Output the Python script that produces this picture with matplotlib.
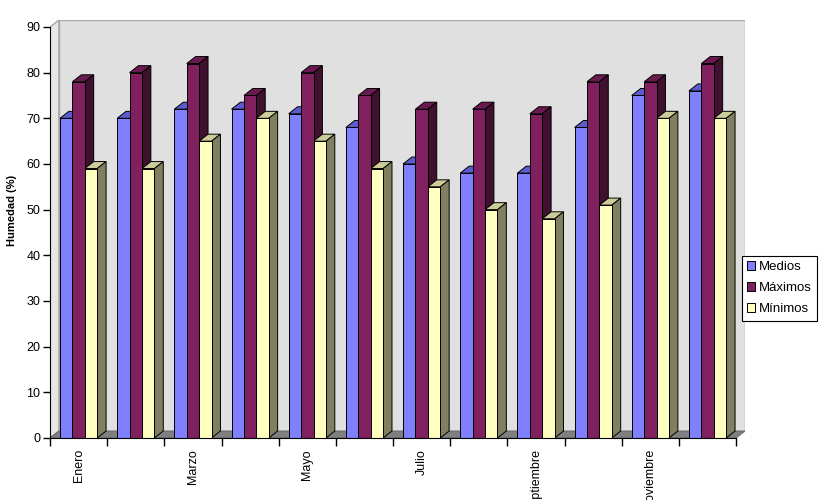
import matplotlib
matplotlib.use('Agg')
import matplotlib.pyplot as plt
from matplotlib.patches import Polygon, Patch
import numpy as np

plt.rcParams['font.family'] = ['Liberation Sans', 'DejaVu Sans']

meses = ['Enero', 'Febrero', 'Marzo', 'Abril', 'Mayo', 'Junio', 'Julio',
         'Agosto', 'Septiembre', 'Octubre', 'Noviembre', 'Diciembre']
medios = [70, 70, 72, 72, 71, 68, 60, 58, 58, 68, 75, 76]
maximos = [78, 80, 82, 75, 80, 75, 72, 72, 71, 78, 78, 82]
minimos = [59, 59, 65, 70, 65, 59, 55, 50, 48, 51, 70, 70]
series = ['Medios', 'Máximos', 'Mínimos']

# front, top, side colours per series
colores = [('#8080ff', '#5c5cd0', '#40408f'),
           ('#80205f', '#6a1a4f', '#40102f'),
           ('#ffffc0', '#cccc99', '#808060')]

n = len(meses)
dx, dy = 0.155, 1.53      # 3D depth offset in data units
off, w = 0.175, 0.217     # bar offset inside category, bar width

fig = plt.figure(figsize=(8.4, 5), dpi=100)
ax = fig.add_axes([50 / 840, 62 / 500, 695 / 840, 418 / 500])
ax.set_xlim(0, n + dx)
ax.set_ylim(0, 90 + dy)

# walls and floor
ax.add_patch(Polygon([(dx, dy), (n + dx, dy), (n + dx, 90 + dy), (dx, 90 + dy)],
                     closed=True, fc='#e0e0e0', ec='#a8a8a8', lw=1, zorder=0))
ax.add_patch(Polygon([(0, 0), (dx, dy), (dx, 90 + dy), (0, 90)],
                     closed=True, fc='#e6e6e6', ec='#a8a8a8', lw=1, zorder=0))
ax.add_patch(Polygon([(0, 0), (n, 0), (n + dx, dy), (dx, dy)],
                     closed=True, fc='#808080', ec='#606060', lw=0.6, zorder=0.5))

for k, vals in enumerate([medios, maximos, minimos]):
    front, top, side = colores[k]
    xs = np.arange(n) + off + k * w
    ax.bar(xs, vals, width=w, align='edge', color=front, edgecolor='black',
           linewidth=0.7, zorder=3)
    for x0, v in zip(xs, vals):
        x1 = x0 + w
        ax.add_patch(Polygon([(x0, v), (x1, v), (x1 + dx, v + dy), (x0 + dx, v + dy)],
                             closed=True, fc=top, ec='black', lw=0.7, zorder=2))
        ax.add_patch(Polygon([(x1, 0), (x1 + dx, dy), (x1 + dx, v + dy), (x1, v)],
                             closed=True, fc=side, ec='black', lw=0.7, zorder=2))

for s in ['top', 'right']:
    ax.spines[s].set_visible(False)
ax.spines['left'].set_bounds(0, 90)
ax.spines['bottom'].set_bounds(0, n)
ax.spines['left'].set_zorder(4)
ax.spines['bottom'].set_zorder(4)

ax.set_yticks(range(0, 91, 10))
ax.tick_params(axis='y', length=5, width=1, labelsize=9, pad=2)
ax.set_xticks(range(n + 1))
ax.set_xticklabels([])
ax.tick_params(axis='x', which='major', length=6, width=1)
ax.set_xticks(np.arange(n) + 0.5, minor=True)
ax.set_xticklabels([m if i % 2 == 0 else '' for i, m in enumerate(meses)],
                   minor=True, rotation=90, fontsize=9)
ax.tick_params(axis='x', which='minor', length=0, pad=8)

fig.text(12 / 840, 1 - 210 / 500, 'Humedad (%)', rotation=90, fontsize=8,
         fontweight='bold', ha='center', va='center')

handles = [Patch(facecolor=c[0], edgecolor='black', linewidth=0.7) for c in colores]
leg = fig.legend(handles, series, loc='upper left', bbox_to_anchor=(742 / 840, 1 - 256 / 500),
                 bbox_transform=fig.transFigure, borderaxespad=0, fontsize=9.5,
                 handlelength=0.6, handleheight=0.6, handletextpad=0.3,
                 labelspacing=0.68, fancybox=False, framealpha=1, borderpad=0.4)
leg.get_frame().set_edgecolor('black')
leg.get_frame().set_linewidth(0.8)

fig.savefig('out.png', dpi=100)
